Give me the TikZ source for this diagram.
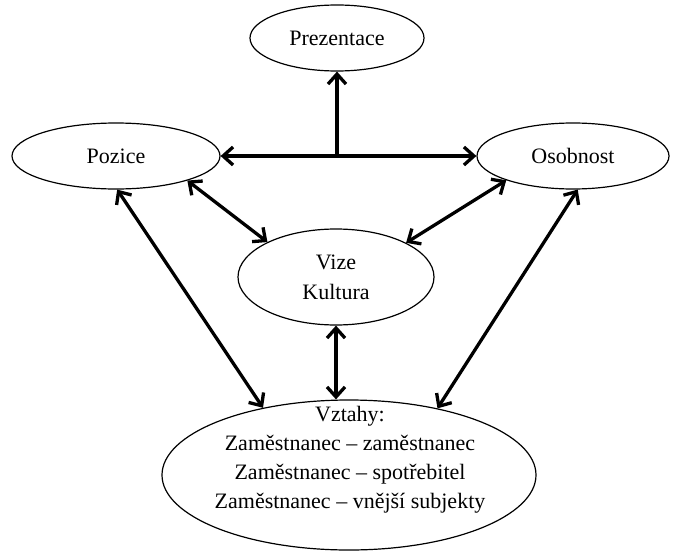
\documentclass[tikz,border=0pt]{standalone}
\usepackage{fontspec}
\setmainfont{Liberation Serif}
\usetikzlibrary{shapes.geometric,arrows.meta}
\tikzset{
  oval/.style={draw, ellipse, line width=1.2pt, inner sep=0pt, align=center},
  link/.style={line width=3.3pt, {Straight Barb[length=10pt,width=18pt]}-{Straight Barb[length=10pt,width=18pt]}},
  onelink/.style={line width=3.3pt, -{Straight Barb[length=10pt,width=18pt]}},
  txt/.style={inner sep=0pt, align=center}
}
\begin{document}
\begin{tikzpicture}[x=1pt,y=-1pt,font=\fontsize{22}{30}\selectfont]
\useasboundingbox (0,0) rectangle (674,551);
\node[oval, minimum width=174pt, minimum height=66pt] (prez) at (337,38) {Prezentace};
\node[oval, minimum width=208pt, minimum height=66pt] (pozice) at (116,156) {Pozice};
\node[oval, minimum width=192pt, minimum height=66pt] (osob) at (573,156) {Osobnost};
\node[oval, minimum width=196pt, minimum height=96pt] (vize) at (336,277) {Vize\\Kultura};
\node[oval, minimum width=374pt, minimum height=150pt] (vztahy) at (349,475) {};
\node[txt, font=\fontsize{22}{29}\selectfont] (vztahyt) at (350,460) {Vztahy:\\Zaměstnanec – zaměstnanec\\Zaměstnanec – spotřebitel\\Zaměstnanec – vnější subjekty};
\coordinate (j) at (337,156);
\draw[link] (pozice.east) -- (osob.west);
\draw[onelink] (j) -- (j |- prez.south);
\draw[link] (pozice.-19) -- (vize.153);
\draw[link] (osob.200) -- (vize.26);
\draw[link] (pozice.-88) -- (vztahy.142);
\draw[link] (osob.-82) -- (vztahy.37);
\draw[link] (vize.south) -- (vize.south |- vztahy.north);
\end{tikzpicture}
\end{document}
